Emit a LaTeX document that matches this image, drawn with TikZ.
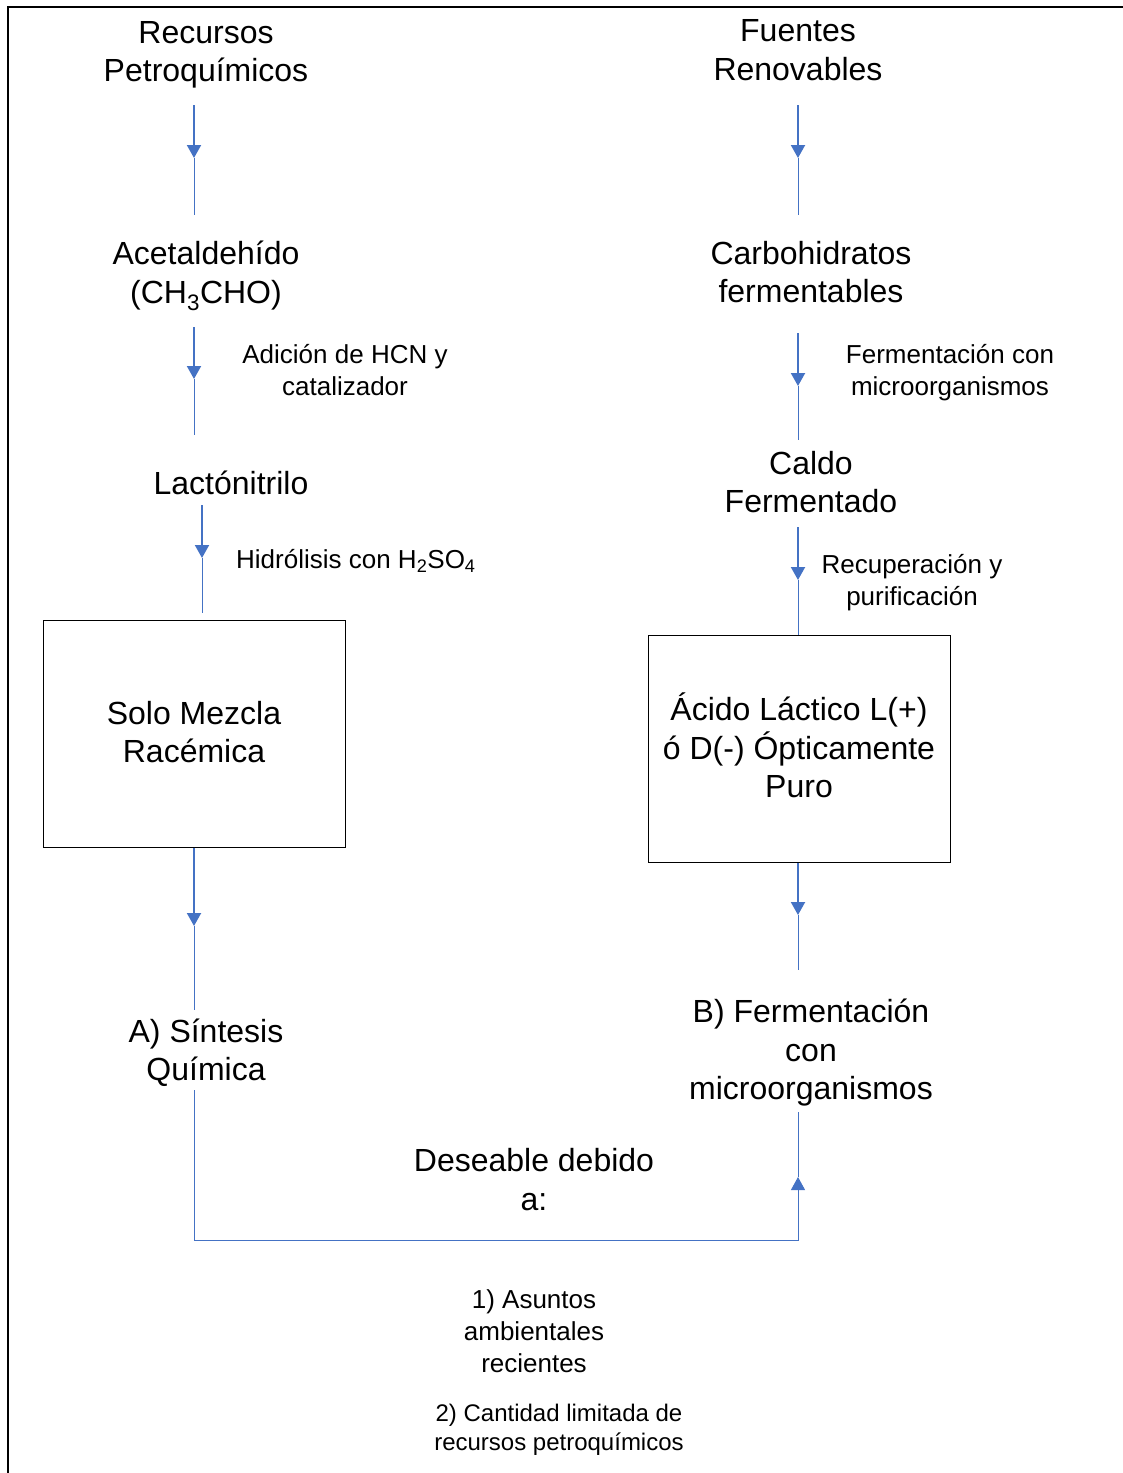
\documentclass[tikz,border=0pt]{standalone}
\usepackage{fontspec}
\setmainfont{Liberation Sans}
\usetikzlibrary{arrows.meta}
\definecolor{flowblue}{HTML}{4472C4}
\begin{document}
\begin{tikzpicture}[x=1pt,y=-1pt,
  big/.style={font=\fontsize{32}{38.5}\selectfont, align=center, inner sep=0pt},
  small/.style={font=\fontsize{26}{32}\selectfont, align=center, inner sep=0pt},
  smaller/.style={font=\fontsize{24}{29}\selectfont, align=center, inner sep=0pt},
  headseg/.style={draw=flowblue, line width=2pt, -{Triangle[width=14pt,length=13pt]}},
  tailseg/.style={draw=flowblue, line width=1pt},
  thinhead/.style={draw=flowblue, line width=1pt, -{Triangle[width=14pt,length=13pt]}},
  boxnode/.style={draw=black, line width=1pt, minimum width=302pt, minimum height=227pt, align=center, inner sep=0pt, font=\fontsize{32}{38.5}\selectfont},
  frameline/.style={draw=black, line width=2pt}
]
\useasboundingbox (0,0) rectangle (1123,1473);
% frame
\coordinate (f1) at (1123,7);
\coordinate (f2) at (8,7);
\coordinate (f3) at (8,1473);
\draw[frameline] (f1) -- (f2) -- (f3);

% texts
\node[big] (rec) at (206,55) {Recursos\\Petroquímicos};
\node[big] (fue) at (798,50) {Fuentes\\Renovables};
\node[big] (ace) at (206,276) {Acetaldehído\\(CH\textsubscript{3}CHO)};
\node[big] (car) at (811,272) {Carbohidratos\\fermentables};
\node[small] (adi) at (345,370) {Adición de HCN y\\catalizador};
\node[small] (fer) at (950,373) {Fermentación con\\microorganismos};
\node[big] (lac) at (231,483) {Lactónitrilo};
\node[big] (cal) at (811,482) {Caldo\\Fermentado};
\node[small, anchor=west] (hid) at (236,561) {Hidrólisis con H\textsubscript{2}SO\textsubscript{4}};
\node[small] (recu) at (912,583) {Recuperación y\\purificación};
\node[boxnode] (solo) at (194,733.5) {};
\node[big] (solot) at (194,732) {Solo Mezcla\\Racémica};
\node[boxnode] (acido) at (799,748.5) {};
\node[big] (acidot) at (799,745.5) {Ácido Láctico L(+)\\ó D(-) Ópticamente\\Puro};
\node[big] (sint) at (206,1052.5) {A) Síntesis\\Química};
\node[big] (bfer) at (811,1053) {B) Fermentación\\con\\microorganismos};
\node[big] (des) at (534,1179.5) {Deseable debido\\a:};
\node[small] (one) at (534,1331) {1) Asuntos\\ambientales\\recientes};
\node[smaller] (two) at (559,1430) {2) Cantidad limitada de\\recursos petroquímicos};

% arrow coordinates
\coordinate (l1a) at (194,105); \coordinate (l1t) at (194,158); \coordinate (l1b) at (194,215);
\coordinate (r1a) at (798,105); \coordinate (r1t) at (798,158); \coordinate (r1b) at (798,215);
\coordinate (l2a) at (194,327); \coordinate (l2t) at (194,379); \coordinate (l2b) at (194,435);
\coordinate (r2a) at (798,333); \coordinate (r2t) at (798,386); \coordinate (r2b) at (798,440);
\coordinate (l3a) at (202,505); \coordinate (l3t) at (202,558); \coordinate (l3b) at (202,613);
\coordinate (r3a) at (798,527); \coordinate (r3t) at (798,580);
\coordinate (l4t) at (194,926); \coordinate (l4b) at (194,1010);
\coordinate (r4t) at (798,915); \coordinate (r4b) at (798,970);
\coordinate (ba) at (194,1090); \coordinate (bc) at (798,1240);
\coordinate (bt) at (798,1177); \coordinate (bb) at (798,1112);

\draw[headseg] (l1a) -- (l1t); \draw[tailseg] (l1t) -- (l1b);
\draw[headseg] (r1a) -- (r1t); \draw[tailseg] (r1t) -- (r1b);
\draw[headseg] (l2a) -- (l2t); \draw[tailseg] (l2t) -- (l2b);
\draw[headseg] (r2a) -- (r2t); \draw[tailseg] (r2t) -- (r2b);
\draw[headseg] (l3a) -- (l3t); \draw[tailseg] (l3t) -- (l3b);
\draw[headseg] (r3a) -- (r3t); \draw[tailseg] (r3t) -- (acido.north -| r3t);
\draw[headseg] (solo.south -| l4t) -- (l4t); \draw[tailseg] (l4t) -- (l4b);
\draw[headseg] (acido.south -| r4t) -- (r4t); \draw[tailseg] (r4t) -- (r4b);
\draw[thinhead] (ba) |- (bc) -- (bt); \draw[tailseg] (bt) -- (bb);
\end{tikzpicture}
\end{document}
